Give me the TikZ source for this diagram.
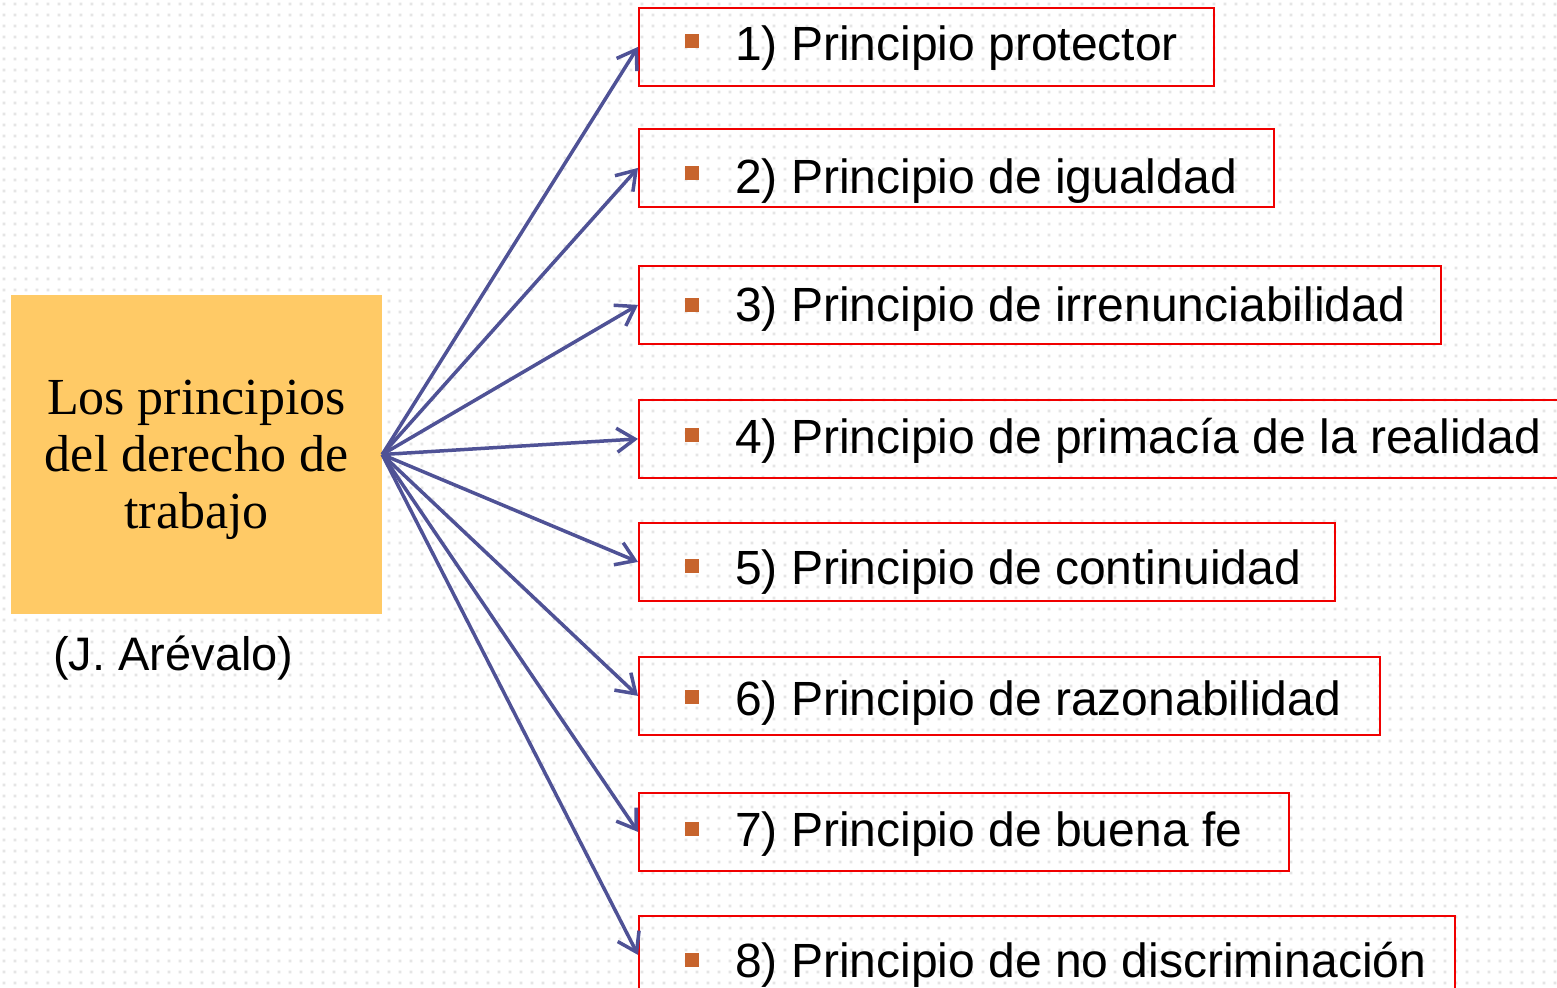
\documentclass[tikz,border=0pt]{standalone}
\usepackage{fontspec}
\setmainfont{Liberation Serif}
\setsansfont{Liberation Sans}
\usetikzlibrary{arrows.meta,patterns.meta}
\definecolor{boxyellow}{RGB}{255,202,102}
\definecolor{arrowc}{RGB}{79,82,150}
\definecolor{bulletc}{RGB}{199,100,45}
\definecolor{framered}{RGB}{240,0,0}
\pgfdeclarepattern{name=dotgrid, type=uncolored,
  bottom left={\pgfpoint{0bp}{0bp}}, top right={\pgfpoint{11bp}{11bp}},
  tile size={\pgfpoint{11bp}{11bp}},
  code={\pgfpathrectangle{\pgfpoint{4bp}{4bp}}{\pgfpoint{3bp}{3bp}}\pgfusepath{fill}}}
\tikzset{
  pbox/.style={draw=framered, line width=1.8bp, minimum height=78bp, inner sep=0pt, anchor=north west},
  ptext/.style={anchor=base west, inner sep=0pt, font=\sffamily\fontsize{48bp}{56bp}\selectfont},
  bulletbox/.style={fill=bulletc, minimum size=14bp, inner sep=0pt},
  arr/.style={draw=arrowc, line width=3.5bp, -{Straight Barb[length=18bp,width=24bp]}},
}
\begin{document}
\begin{tikzpicture}[x=1bp,y=-1bp]
\useasboundingbox (0,0) rectangle (1557,987);
\fill[white] (0,0) rectangle (1557,987);
\fill[pattern=dotgrid, pattern color=black!10] (0,0) rectangle (1557,987);

\node[fill=boxyellow, minimum width=371bp, minimum height=319bp, inner sep=0pt] (src) at (196.5,454.5) {};
\node[inner sep=0pt, align=center, font=\rmfamily\fontsize{52bp}{57bp}\selectfont] (srctext) at (196.5,460)
      {Los principios\\del derecho de\\trabajo};
\node[anchor=base west, inner sep=0pt, font=\sffamily\fontsize{47bp}{56bp}\selectfont] (auth) at (53,670) {(J. Arévalo)};

\node[pbox, minimum width=575bp] (b1) at (638,7) {};
\node[pbox, minimum width=635bp] (b2) at (638,128) {};
\node[pbox, minimum width=802bp] (b3) at (638,265) {};
\node[pbox, minimum width=940bp] (b4) at (638,399) {};
\node[pbox, minimum width=696bp] (b5) at (638,522) {};
\node[pbox, minimum width=741bp] (b6) at (638,656) {};
\node[pbox, minimum width=650bp] (b7) at (638,792) {};
\node[pbox, minimum width=816bp] (b8) at (638,915) {};

\node[bulletbox] (q1) at (691.5,41) {};
\node[bulletbox] (q2) at (691.5,173) {};
\node[bulletbox] (q3) at (691.5,305) {};
\node[bulletbox] (q4) at (691.5,435) {};
\node[bulletbox] (q5) at (691.5,566) {};
\node[bulletbox] (q6) at (691.5,697) {};
\node[bulletbox] (q7) at (691.5,829) {};
\node[bulletbox] (q8) at (691.5,960) {};

\node[ptext] (t1) at (735,60) {1) Principio protector};
\node[ptext] (t2) at (735,193) {2) Principio de igualdad};
\node[ptext] (t3) at (735,321) {3) Principio de irrenunciabilidad};
\node[ptext] (t4) at (735,453) {4) Principio de primacía de la realidad};
\node[ptext] (t5) at (735,584) {5) Principio de continuidad};
\node[ptext] (t6) at (735,715) {6) Principio de razonabilidad};
\node[ptext] (t7) at (735,846) {7) Principio de buena fe};
\node[ptext] (t8) at (735,977) {8) Principio de no discriminación};

\foreach \i in {1,...,8}{
  \draw[arr] (src.east) -- (b\i.west);
}
\end{tikzpicture}
\end{document}
